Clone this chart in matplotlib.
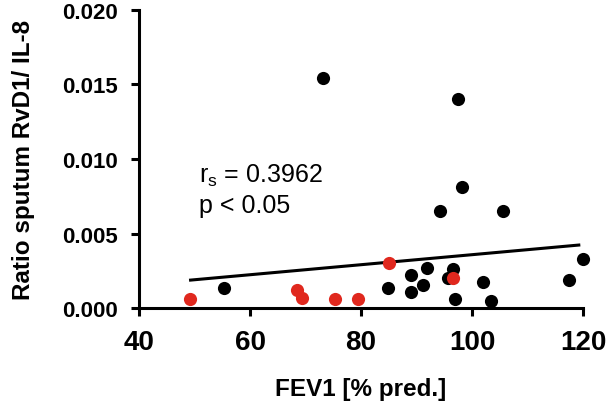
import matplotlib
matplotlib.use("Agg")
import matplotlib.pyplot as plt

plt.rcParams["font.family"] = ["Liberation Sans", "DejaVu Sans"]

# black points
fev_black   = [73.1, 97.5, 98.2, 94.2, 105.5, 120.0, 117.4, 101.9, 103.4, 96.9,
               96.5, 95.7, 91.9, 89.0, 91.1, 89.0, 84.9, 55.4]
ratio_black = [0.0154, 0.0140, 0.0081, 0.0065, 0.0065, 0.00327, 0.00188, 0.00174, 0.00047, 0.00062,
               0.00264, 0.0020, 0.00266, 0.0022, 0.00154, 0.00105, 0.00134, 0.00136]

# red points
fev_red   = [49.2, 68.4, 69.4, 75.3, 79.5, 85.0, 96.6]
ratio_red = [0.00058, 0.00119, 0.00067, 0.00058, 0.0006, 0.00304, 0.0020]

# regression line ends
fit_x = [49.3, 119.2]
fit_y = [0.00188, 0.00423]

xticks = [40, 60, 80, 100, 120]
yticks = [0.000, 0.005, 0.010, 0.015, 0.020]

fig = plt.figure(figsize=(6.12, 4.02), dpi=100)
ax = fig.add_axes([0.227, 0.231, 0.726, 0.742])

ax.plot(fit_x, fit_y, color="black", lw=2.2, zorder=2)
ax.scatter(fev_black, ratio_black, s=90, color="black", zorder=3, clip_on=False, linewidths=0)
ax.scatter(fev_red, ratio_red, s=90, color="#e0281e", zorder=4, clip_on=False, linewidths=0)

ax.set_xlim(40, 120)
ax.set_ylim(0, 0.020)
ax.set_xticks(xticks)
ax.set_yticks(yticks)
ax.set_xticklabels([str(t) for t in xticks], fontsize=20, fontweight="bold")
ax.set_yticklabels([f"{t:.3f}" for t in yticks], fontsize=16, fontweight="bold")

for side in ["top", "right"]:
    ax.spines[side].set_visible(False)
for side in ["left", "bottom"]:
    ax.spines[side].set_linewidth(2.2)
ax.tick_params(width=2.2, length=5.8, direction="out")
ax.tick_params(axis="x", pad=9)
ax.tick_params(axis="y", pad=9)

ax.set_xlabel("FEV1 [% pred.]", fontsize=17.5, fontweight="bold", labelpad=16)
ax.set_ylabel("Ratio sputum RvD1/ IL-8", fontsize=17.5, fontweight="bold", labelpad=20)

ax.text(50.8, 0.0085, r"r$_\mathregular{s}$ = 0.3962", fontsize=18, va="baseline")
ax.text(50.8, 0.00645, "p < 0.05", fontsize=18, va="baseline")

fig.savefig("out.png", dpi=100)
